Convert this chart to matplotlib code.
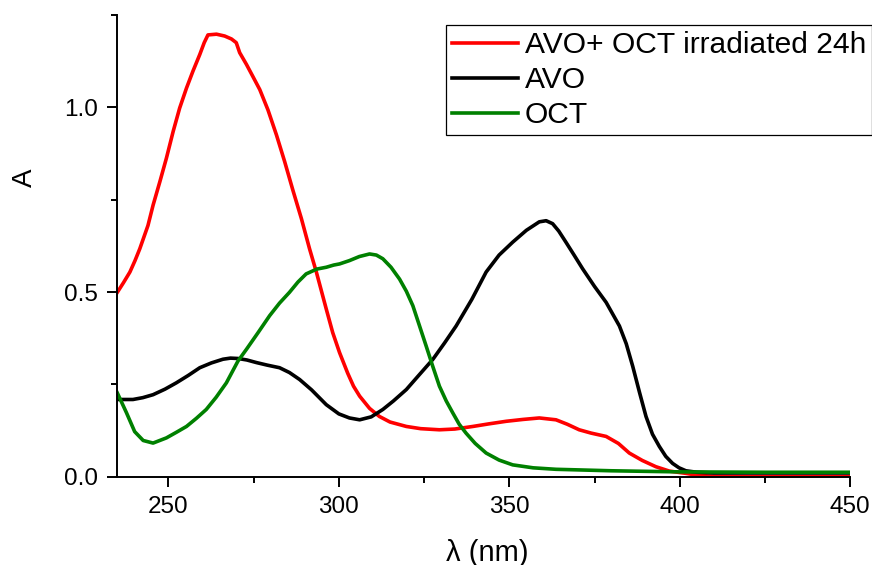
import matplotlib
matplotlib.use('Agg')
import matplotlib.pyplot as plt
from matplotlib.ticker import MultipleLocator

plt.rcParams['font.family'] = ['Liberation Sans', 'DejaVu Sans']

# absorbance spectra, wavelength in nm
wl_mix = [235, 236.8, 238.7, 240.2, 241.6, 244.0, 245.5, 247.5, 249.4, 251.4, 253.3, 255.3, 257.2,
          259.2, 260.5, 261.6, 264.1, 266.5, 268.5, 269.9, 270.9, 272.9, 274.8, 276.8, 279.2,
          281.7, 284.1, 286.5, 289.0, 291.4, 293.4, 296.3, 298.2, 300.2, 302.6, 304.3, 306.1,
          309, 311.9, 315, 319.8, 324, 329.5, 334, 339.3, 344, 349.1, 354, 358.8, 363.7,
          367, 370.5, 374, 378.4, 382, 385.2, 389, 393, 397, 401.8, 405, 410, 420, 435, 450]
a_mix = [0.499, 0.525, 0.554, 0.585, 0.617, 0.680, 0.735, 0.799, 0.862, 0.935, 0.998, 1.052, 1.098,
         1.143, 1.175, 1.196, 1.198, 1.193, 1.185, 1.175, 1.148, 1.116, 1.083, 1.048, 0.993,
         0.925, 0.853, 0.776, 0.699, 0.617, 0.554, 0.454, 0.39, 0.336, 0.28, 0.245, 0.218,
         0.185, 0.163, 0.148, 0.136, 0.13, 0.127, 0.129, 0.136, 0.143, 0.150, 0.155, 0.159, 0.154,
         0.142, 0.127, 0.118, 0.109, 0.09, 0.064, 0.044, 0.027, 0.015, 0.009, 0.004, 0.001, 0.0, 0.0, 0.0]

wl_avo = [235, 239.6, 242.5, 245.5, 249, 252.3, 255.8, 259.2, 262.6, 266, 268.2, 270.4, 273, 275.8,
          279, 282.6, 285.5, 288.5, 292, 296.3, 300, 303.1, 306.1, 309.5, 312.9, 316, 319.8,
          323.5, 327.6, 331, 334.4, 339, 343.2, 347, 351, 355, 358.8, 360.8, 362.7, 364.5,
          366.6, 369, 371.5, 375, 378.4, 382.3, 384.3, 386.2, 388.2, 390.1, 392, 394, 395.9,
          397.9, 399.8, 401.8, 405, 410, 430, 450]
a_avo = [0.209, 0.209, 0.214, 0.222, 0.237, 0.254, 0.274, 0.295, 0.308, 0.318, 0.321, 0.320, 0.316, 0.309,
         0.302, 0.295, 0.282, 0.263, 0.235, 0.195, 0.17, 0.159, 0.154, 0.162, 0.182, 0.205, 0.236,
         0.275, 0.318, 0.362, 0.408, 0.48, 0.554, 0.6, 0.635, 0.667, 0.69, 0.693, 0.685, 0.665,
         0.635, 0.6, 0.563, 0.515, 0.472, 0.408, 0.36, 0.299, 0.228, 0.163, 0.115, 0.082, 0.055,
         0.036, 0.024, 0.016, 0.012, 0.01, 0.01, 0.01]

wl_oct = [235, 237.7, 240.1, 242.6, 245.5, 249.4, 252.3, 255.3, 258.2, 261.1, 264, 267, 270.4,
          272.9, 276.3, 279.7, 282.6, 285.5, 288, 290.4, 293.5, 296.3, 298.5, 300.2, 303.1, 306,
          309, 311, 312.9, 315.3, 317.8, 319.8, 321.7, 323.6, 325.6, 327.5, 329.5, 331.5, 333.4,
          335.3, 337.3, 340, 343.2, 347, 351, 357, 363.7, 380, 400, 425, 450]
a_oct = [0.227, 0.173, 0.122, 0.098, 0.091, 0.105, 0.12, 0.136, 0.158, 0.182, 0.215, 0.254, 0.313,
         0.345, 0.39, 0.436, 0.47, 0.499, 0.527, 0.549, 0.562, 0.567, 0.573, 0.576, 0.585, 0.596,
         0.603, 0.6, 0.59, 0.567, 0.535, 0.502, 0.463, 0.41, 0.354, 0.3, 0.245, 0.205, 0.173,
         0.142, 0.118, 0.09, 0.064, 0.045, 0.032, 0.024, 0.02, 0.016, 0.013, 0.012, 0.012]

labels = ['AVO+ OCT irradiated 24h', 'AVO', 'OCT']
colors = ['#ff0000', '#000000', '#008000']

fig = plt.figure(figsize=(8.72, 5.65), dpi=100)
ax = fig.add_axes([0.1345, 0.1563, 0.8405, 0.8172])

series = [(wl_mix, a_mix), (wl_avo, a_avo), (wl_oct, a_oct)]
for (x, y), lab, c in zip(series, labels, colors):
    ax.plot(x, y, color=c, lw=2.6, label=lab, solid_joinstyle='round')

ax.set_xlim(235, 450)
ax.set_ylim(0, 1.25)
ax.xaxis.set_major_locator(MultipleLocator(50))
ax.xaxis.set_minor_locator(MultipleLocator(25))
ax.yaxis.set_major_locator(MultipleLocator(0.5))
ax.yaxis.set_minor_locator(MultipleLocator(0.25))
ax.set_yticks([0, 0.5, 1.0])
ax.set_yticklabels(['0.0', '0.5', '1.0'])

for side in ['top', 'right']:
    ax.spines[side].set_visible(False)
for side in ['left', 'bottom']:
    ax.spines[side].set_linewidth(1.4)
ax.tick_params(which='major', direction='out', length=7, width=1.4, labelsize=17.5, pad=7)
ax.tick_params(which='minor', direction='out', length=4, width=1.4)

ax.set_xlabel('λ (nm)', fontsize=21)
ax.set_ylabel('A', fontsize=20)
ax.xaxis.set_label_coords(0.505, -0.134)
ax.yaxis.set_label_coords(-0.108, 0.648)

leg = ax.legend(loc='upper left', bbox_to_anchor=(446 / 872, 1 - 25 / 565),
                bbox_transform=fig.transFigure, fontsize=21.6, frameon=True, fancybox=False,
                edgecolor='black', framealpha=1, handlelength=2.2, handletextpad=0.22,
                labelspacing=0.24, borderpad=0.2, borderaxespad=0)
leg.get_frame().set_linewidth(0.9)

fig.savefig('out.png', dpi=100)
